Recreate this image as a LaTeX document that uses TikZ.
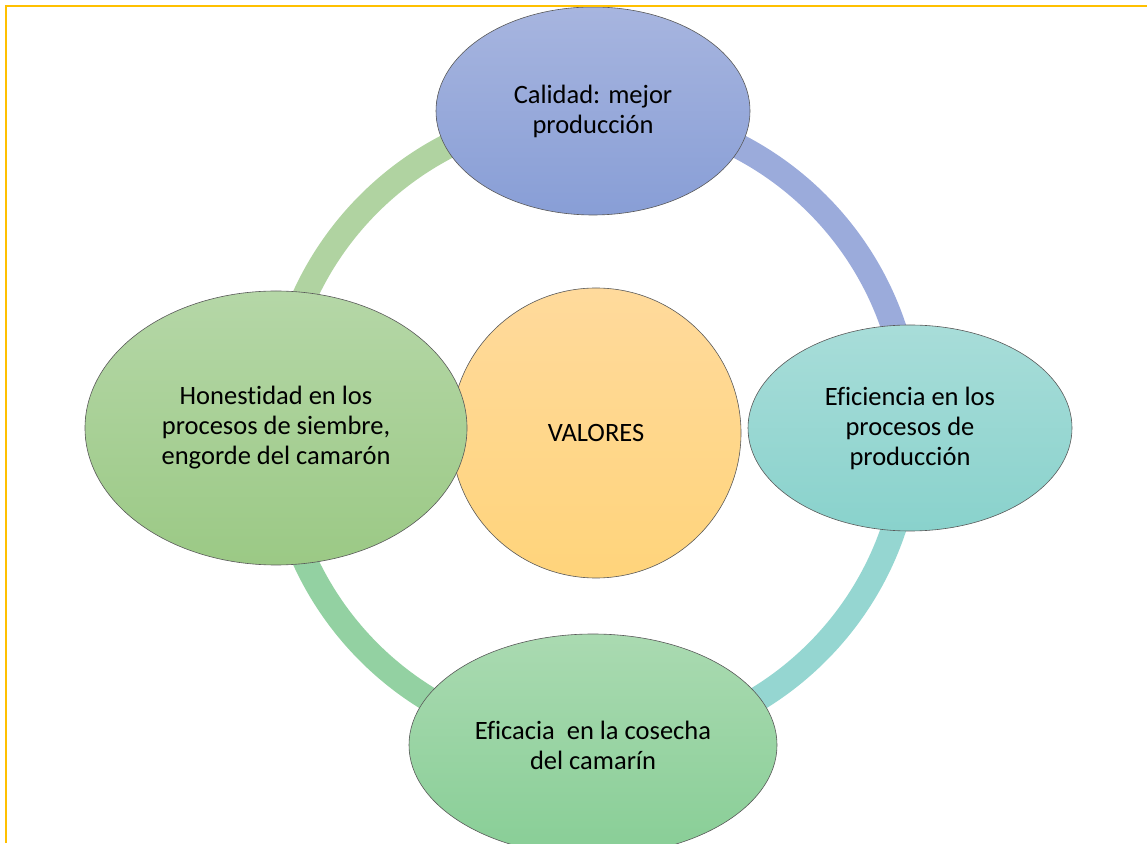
\documentclass[tikz,border=0pt]{standalone}
\usepackage{fontspec}
\setmainfont[Ligatures={NoCommon}]{Carlito}
\usepackage{tikz}
\usetikzlibrary{shapes.geometric,positioning,backgrounds}

\definecolor{framegold}{HTML}{FFC000}
\definecolor{calTop}{HTML}{A7B5DF}
\definecolor{calBot}{HTML}{889ED6}
\definecolor{efiTop}{HTML}{A8DDD9}
\definecolor{efiBot}{HTML}{89D2CC}
\definecolor{ecaTop}{HTML}{AADAB1}
\definecolor{ecaBot}{HTML}{88CE96}
\definecolor{honTop}{HTML}{B5D7A7}
\definecolor{honBot}{HTML}{9BC985}
\definecolor{valTop}{HTML}{FFDA9C}
\definecolor{valBot}{HTML}{FFD47B}
\definecolor{arcGreenA}{HTML}{B0D3A1}
\definecolor{arcBlue}{HTML}{9BABDB}
\definecolor{arcTeal}{HTML}{95D6D1}
\definecolor{arcGreenB}{HTML}{93D1A2}

\begin{document}
\begin{tikzpicture}[x=1pt,y=1pt,
	valnode/.style={ellipse, draw=black!65, line width=0.6pt, align=center, inner sep=0pt, font=\fontsize{26.5}{30}\selectfont},
	ringarc/.style={line width=25pt},
	]
	\useasboundingbox (0,0) rectangle (1147,843);
	\clip (0,0) rectangle (1147,843);
	
	%Ring centre
	\coordinate (ring) at (593,415);
	\def\R{317}
	
	%Nodes
	\node[valnode, circle, minimum size=290pt, top color=valTop, bottom color=valBot] (valores) at ([shift={(3,-5)}]ring) {VALORES};
	\node[valnode, minimum width=314pt, minimum height=208pt, top color=calTop, bottom color=calBot] (calidad) at ([shift={(90:\R)}]ring) {Calidad: mejor\\producción};
	\node[valnode, minimum width=324pt, minimum height=206pt, top color=efiTop, bottom color=efiBot] (eficiencia) at ([shift={(0:\R)}]ring) {Eficiencia en los\\procesos de\\producción};
	\node[valnode, minimum width=368pt, minimum height=222pt, top color=ecaTop, bottom color=ecaBot] (eficacia) at ([shift={(270:\R)}]ring) {Eficacia\ \ en la cosecha\\del camarín};
	\node[valnode, minimum width=382pt, minimum height=274pt, top color=honTop, bottom color=honBot] (honestidad) at ([shift={(180:\R)}]ring) {Honestidad en los\\procesos de siembre,\\engorde del camarón};
	
	%Ring arcs
	\begin{scope}[on background layer]
		\draw[ringarc, arcBlue] (calidad.center) arc[start angle=90, end angle=0, radius=\R];
		\draw[ringarc, arcTeal] (eficiencia.center) arc[start angle=0, end angle=-90, radius=\R];
		\draw[ringarc, arcGreenB] (eficacia.center) arc[start angle=270, end angle=180, radius=\R];
		\draw[ringarc, arcGreenA] (honestidad.center) arc[start angle=180, end angle=90, radius=\R];
	\end{scope}
	
	%Frame
	\draw[framegold, line width=2.5pt] (6,0) -- (6,837) -- (1147,837);
	
\end{tikzpicture}
\end{document}
